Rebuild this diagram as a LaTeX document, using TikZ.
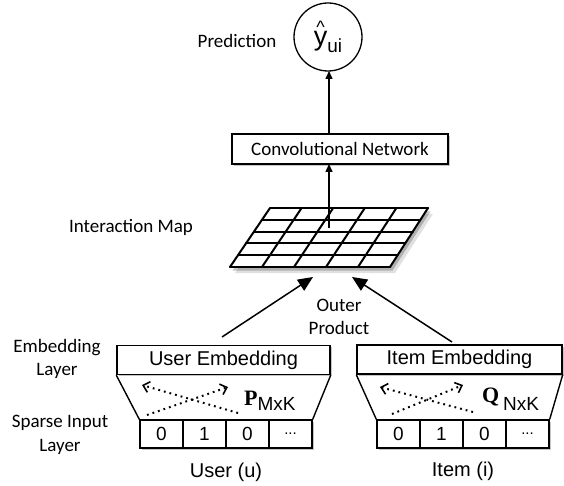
\documentclass[tikz,border=0pt]{standalone}
\usepackage{fontspec}
\setmainfont{Carlito}
\newfontfamily\arialf{Liberation Sans}
\newfontfamily\timesf{Liberation Serif}
\usetikzlibrary{arrows.meta,shadows,calc}

\begin{document}
\begin{tikzpicture}[x=1pt,y=-1pt,
  lbl/.style={font=\fontsize{19}{23}\selectfont, align=center, text=black},
  box/.style={draw, line width=1.4pt, fill=white, inner sep=0pt,
    drop shadow={shadow xshift=1.6pt, shadow yshift=-1.6pt, opacity=0.45}},
  embbox/.style={box, minimum height=29pt, font=\arialf\fontsize{20}{24}\selectfont},
  cell/.style={box, minimum width=43pt, minimum height=28pt, font=\arialf\fontsize{19}{22}\selectfont},
  flow/.style={line width=1.5pt, -{Triangle[length=8pt,width=7pt]}},
  bigflow/.style={line width=1.5pt, -{Triangle[length=15pt,width=13pt]}},
  lookup/.style={line width=2pt, dash pattern=on 1.8pt off 4pt,
    -{Straight Barb[length=6pt,width=11pt,line width=1.6pt]}},
  gridline/.style={line width=2pt, line cap=round}
]
\useasboundingbox (0,0) rectangle (564,486);

% ---------- prediction ----------
\node[draw, circle, line width=1.3pt, minimum size=68pt, inner sep=0pt] (pred) at (328,37)
  {\arialf\fontsize{27}{30}\selectfont
   \makebox[0pt][l]{\hspace{2.5pt}\raisebox{12pt}{\fontsize{18}{18}\selectfont\textasciicircum}}y\raisebox{-7pt}{\fontsize{19}{20}\selectfont ui}};
\node[lbl] (predlbl) at (237,41) {Prediction};

% ---------- convolutional network ----------
\node[box, minimum width=216pt, minimum height=30pt, font=\fontsize{19}{23}\selectfont] (cnn) at (340,149) {Convolutional Network};
\coordinate (cnnin) at (329,164);
\coordinate (cnnout) at (329,134);
\coordinate (predin) at (329,71);
\draw[flow] (cnnout) -- (predin);

% ---------- interaction map (5x5 grid, parallelogram) ----------
\coordinate (gtl) at (270,208);
\coordinate (gtr) at (428,208);
\coordinate (gbr) at (390,267);
\coordinate (gbl) at (230,267);
\fill[black, opacity=0.12] ([shift={(5,6)}]gtl) -- ([shift={(5,6)}]gtr) -- ([shift={(5,6)}]gbr) -- ([shift={(5,6)}]gbl) -- cycle;
\fill[black, opacity=0.22] ([shift={(2.5,3.5)}]gtl) -- ([shift={(2.5,3.5)}]gtr) -- ([shift={(2.5,3.5)}]gbr) -- ([shift={(2.5,3.5)}]gbl) -- cycle;
\fill[white] (gtl) -- (gtr) -- (gbr) -- (gbl) -- cycle;
\foreach \i in {0,...,5} {
  \draw[gridline] ($(gtl)!\i/5!(gtr)$) -- ($(gbl)!\i/5!(gbr)$);
  \draw[gridline] ($(gtl)!\i/5!(gbl)$) -- ($(gtr)!\i/5!(gbr)$);
}
\coordinate (imapout) at (329,228);
\draw[flow] (imapout) -- (cnnin);
\node[lbl] (imaplbl) at (131,227) {Interaction Map};

% ---------- outer product ----------
\coordinate (opl) at (313,277);
\coordinate (opr) at (352,277);
\node[lbl, font=\fontsize{19}{23}\selectfont] (outer) at (339,316.5) {Outer\\Product};

% ---------- embedding layer ----------
\node[embbox, minimum width=213pt] (uemb) at (223.5,360) {User Embedding};
\node[embbox, minimum width=205pt] (iemb) at (459.5,359.5) {Item Embedding};
\coordinate (ustart) at (222,337);
\coordinate (istart) at (452,342);
\draw[bigflow] (ustart) -- (opl);
\draw[bigflow] (istart) -- (opr);

% ---------- sparse input (user) ----------
\node[cell] (u1) at (161.5,434) {0};
\node[cell] (u2) at (204.5,434) {1};
\node[cell] (u3) at (247.5,434) {0};
\node[cell, font=\arialf\fontsize{15}{18}\selectfont] (u4) at (290.5,434) {...};
\draw[line width=1.4pt] (uemb.south west) -- (u1.north west);
\draw[line width=1.4pt] (uemb.south east) -- (u4.north east);

% ---------- sparse input (item) ----------
\node[cell] (i1) at (398.5,434) {0};
\node[cell] (i2) at (441.5,434) {1};
\node[cell] (i3) at (484.5,434) {0};
\node[cell, font=\arialf\fontsize{15}{18}\selectfont] (i4) at (527.5,434) {...};
\draw[line width=1.4pt] (iemb.south west) -- (i1.north west);
\draw[line width=1.4pt] (iemb.south east) -- (i4.north east);

% ---------- lookup arrows and weight matrices ----------
\coordinate (ua1) at (238,413); \coordinate (ua1e) at (142,385);
\coordinate (ua2) at (147,415); \coordinate (ua2e) at (228,387);
\draw[lookup] (ua1) -- (ua1e);
\draw[lookup] (ua2) -- (ua2e);
\node[anchor=base west, inner sep=0pt] (pmat) at (244,405)
  {{\timesf\bfseries\fontsize{22}{22}\selectfont P}\raisebox{-5pt}{\arialf\fontsize{19}{20}\selectfont MxK}};

\coordinate (ia1) at (473,412); \coordinate (ia1e) at (380,387);
\coordinate (ia2) at (392,414); \coordinate (ia2e) at (463,385);
\draw[lookup] (ia1) -- (ia1e);
\draw[lookup] (ia2) -- (ia2e);
\node[anchor=base west, inner sep=0pt] (qmat) at (482,402)
  {\timesf\bfseries\fontsize{22}{22}\selectfont Q};
\node[anchor=base west, inner sep=0pt] (qsub) at (503,410)
  {\arialf\fontsize{19}{20}\selectfont NxK};

% ---------- side and bottom labels ----------
\node[lbl] (emblbl) at (57,358.5) {Embedding\\Layer};
\node[lbl, font=\fontsize{19}{24}\selectfont] (sparselbl) at (60,435) {Sparse Input\\Layer};
\node[font=\arialf\fontsize{20}{24}\selectfont] (ulbl) at (226,472) {User (u)};
\node[font=\arialf\fontsize{20}{24}\selectfont] (ilbl) at (463,471) {Item (i)};
\end{tikzpicture}
\end{document}
